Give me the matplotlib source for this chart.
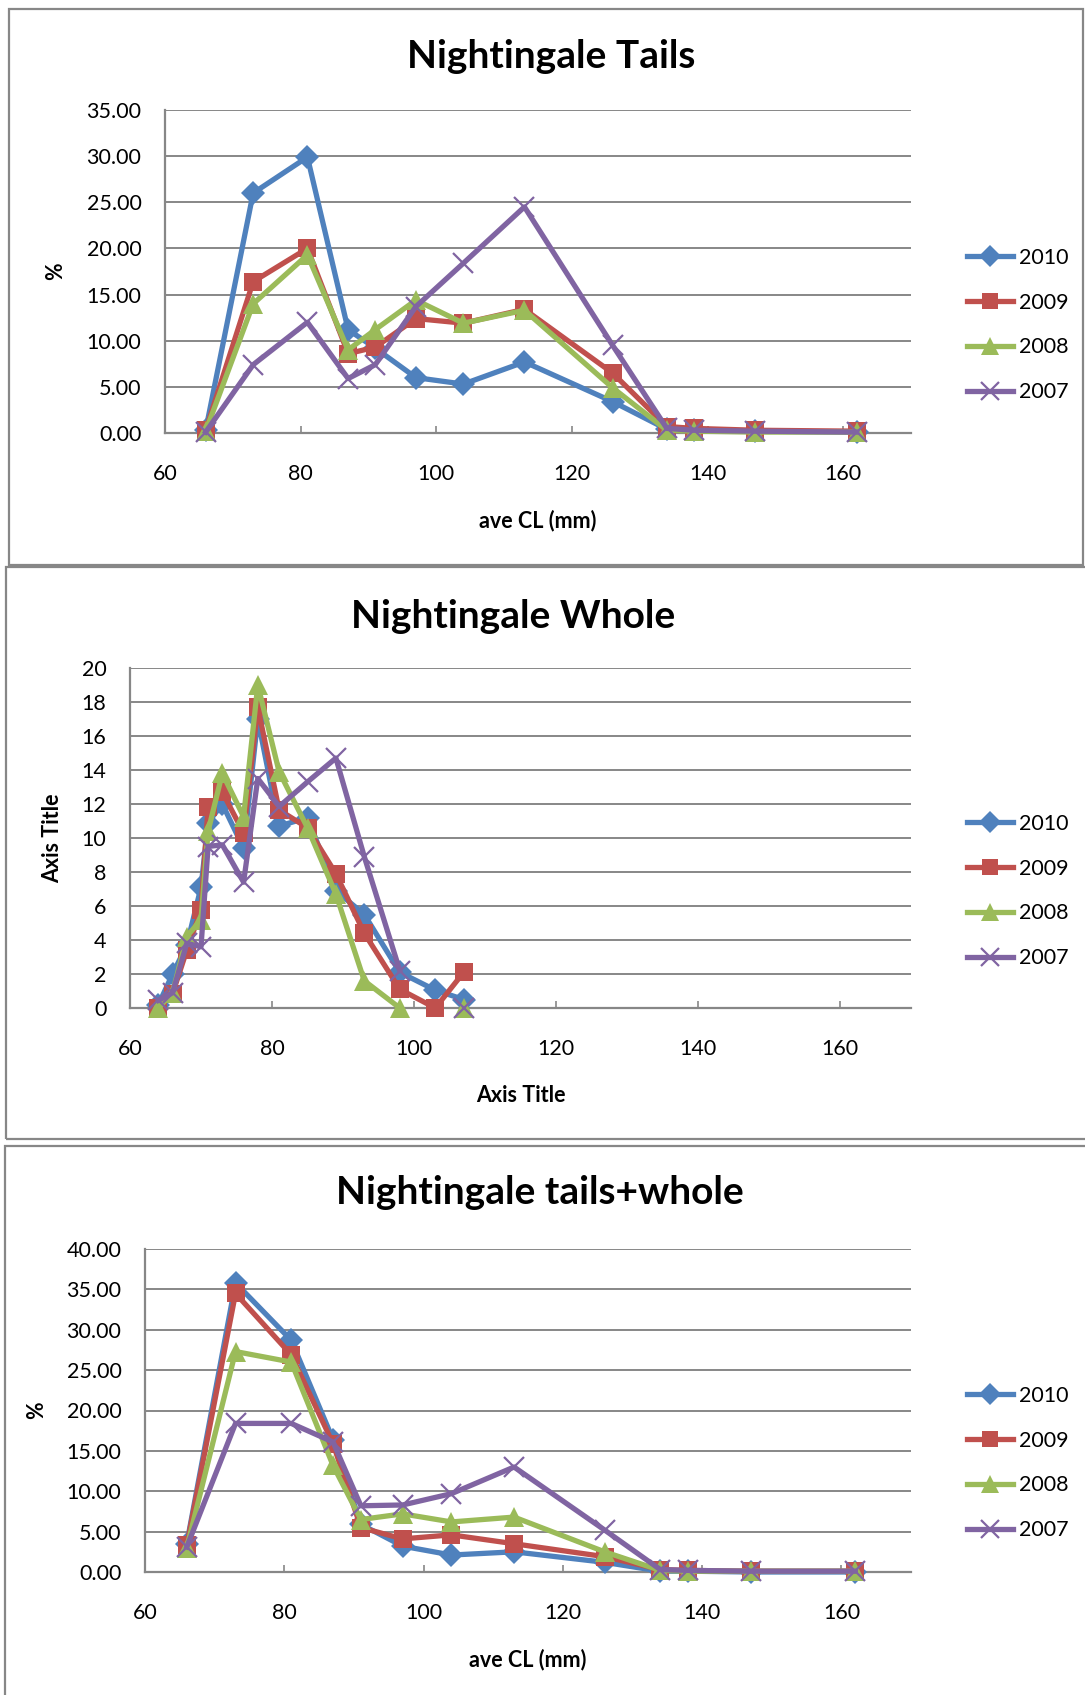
import numpy as np
import matplotlib
matplotlib.use("Agg")
import matplotlib.pyplot as plt
from matplotlib.patches import Rectangle

plt.rcParams["font.family"] = ["Lato", "DejaVu Sans"]

# Data
YEARS = ["2010", "2009", "2008", "2007"]
COLORS = ["#4F81BD", "#C0504D", "#9BBB59", "#8064A2"]
MARKERS = ["D", "s", "^", "x"]

CL_TAILS = [66, 73, 81, 87, 91, 97, 104, 113, 126, 134, 138, 147, 162]
TAILS_2010 = [0.3, 26.0, 29.9, 11.2, 9.2, 6.0, 5.3, 7.7, 3.4, 0.4, 0.3, 0.2, 0.1]
TAILS_2009 = [0.3, 16.4, 20.0, 8.6, 9.3, 12.4, 11.9, 13.4, 6.5, 0.7, 0.5, 0.3, 0.2]
TAILS_2008 = [0.2, 14.0, 19.3, 9.0, 11.2, 14.4, 11.9, 13.3, 4.9, 0.3, 0.2, 0.1, 0.1]
TAILS_2007 = [0.1, 7.4, 12.0, 5.9, 7.4, 13.7, 18.4, 24.5, 9.5, 0.5, 0.3, 0.2, 0.1]

CL_WHOLE = [64, 66, 68, 70, 71, 73, 76, 78, 81, 85, 89, 93, 98, 103, 107]
WHOLE_2010 = [0.2, 2.0, 3.7, 7.1, 10.9, 12.0, 9.4, 17.0, 10.7, 11.2, 6.9, 5.5, 2.1, 1.05, 0.5]
WHOLE_2009 = [0.0, 0.85, 3.4, 5.75, 11.85, 12.7, 10.3, 17.7, 11.65, 10.6, 7.9, 4.4, 1.1, 0.0, 2.1]
WHOLE_2008 = [0.0, 0.9, 4.2, 5.2, 10.4, 13.8, 11.25, 19.0, 13.9, 10.6, 6.7, 1.6, 0.0, np.nan, 0.0]
WHOLE_2007 = [0.45, 0.9, 3.8, 3.6, 9.5, 9.6, 7.4, 13.5, 11.85, 13.3, 14.7, 8.9, 2.2, np.nan, 0.0]

BOTH_2010 = [3.5, 35.8, 28.7, 16.4, 5.9, 3.2, 2.1, 2.5, 1.2, 0.1, 0.1, 0.0, 0.0]
BOTH_2009 = [3.3, 34.5, 26.9, 15.9, 5.5, 4.1, 4.6, 3.5, 1.9, 0.3, 0.2, 0.1, 0.1]
BOTH_2008 = [3.0, 27.3, 26.0, 13.2, 6.5, 7.2, 6.2, 6.8, 2.5, 0.2, 0.1, 0.1, 0.1]
BOTH_2007 = [3.1, 18.4, 18.4, 16.1, 8.2, 8.3, 9.7, 13.0, 5.2, 0.3, 0.2, 0.1, 0.1]

X_TICKS = [60, 80, 100, 120, 140, 160]

W, H = 1085, 1695
GRAY = "#878787"
FS = 15.5

fig = plt.figure(figsize=(W / 100, H / 100), dpi=100)


def px_axes(left, top, right, bottom):
    """axes from pixel box."""
    return fig.add_axes([left / W, 1 - bottom / H, (right - left) / W, (bottom - top) / H])


def draw_panel(ax, x, series, ymax, ystep, yfmt, title, title_xy, xlabel, ylabel,
               ylabel_x, legend_y):
    """draw one excel-like line chart."""
    for vals, name, col, mk in zip(series, YEARS, COLORS, MARKERS):
        if mk == "x":
            ax.plot(x, vals, color=col, lw=3.8, marker=mk, ms=15, mew=1.6,
                    label=name, clip_on=False, zorder=3)
        else:
            size = {"D": 12.5, "s": 13, "^": 14.5}[mk]
            ax.plot(x, vals, color=col, lw=3.8, marker=mk, ms=size, mew=0,
                    label=name, clip_on=False, zorder=3)
    ax.set_xlim(60, 170)
    ax.set_ylim(0, ymax)
    ax.set_xticks(X_TICKS)
    yt = np.arange(0, ymax + ystep / 2, ystep)
    ax.set_yticks(yt)
    ax.set_yticklabels([yfmt.format(v) for v in yt])
    ax.yaxis.grid(True, color=GRAY, lw=1.4)
    ax.set_axisbelow(True)
    for s in ["top", "right"]:
        ax.spines[s].set_visible(False)
    for s in ["left", "bottom"]:
        ax.spines[s].set_color(GRAY)
        ax.spines[s].set_linewidth(1.6)
    ax.tick_params(axis="y", length=0, pad=17, labelsize=FS)
    ax.tick_params(axis="x", direction="in", length=5, width=1.2, color=GRAY,
                   pad=22, labelsize=FS)
    fig.text(title_xy[0] / W, 1 - title_xy[1] / H, title, ha="center", va="center",
             fontsize=28, fontweight="bold")
    bb = ax.get_position()
    fig.text((bb.x0 + bb.x1) / 2, bb.y0 - 88 / H, xlabel, ha="center", va="center",
             fontsize=15.5, fontweight="bold")
    fig.text(ylabel_x / W, (bb.y0 + bb.y1) / 2, ylabel, ha="center", va="center",
             rotation=90, fontsize=15.5, fontweight="bold")
    ax.legend(loc="center left", bbox_to_anchor=(967 / W, 1 - legend_y / H),
              bbox_transform=fig.transFigure, frameon=False, fontsize=FS,
              handlelength=2.15, handletextpad=0.25, labelspacing=1.15,
              borderpad=0, borderaxespad=0, numpoints=1, markerscale=0.9)


ax1 = px_axes(165, 110, 911, 433)
draw_panel(ax1, CL_TAILS, [TAILS_2010, TAILS_2009, TAILS_2008, TAILS_2007], 35, 5,
           "{:.2f}", "Nightingale Tails", (551, 56), "ave CL (mm)", "%", 56, 325)

ax2 = px_axes(130, 668, 911, 1008)
draw_panel(ax2, CL_WHOLE, [WHOLE_2010, WHOLE_2009, WHOLE_2008, WHOLE_2007], 20, 2,
           "{:.0f}", "Nightingale Whole", (513, 617), "Axis Title", "Axis Title", 53, 891)

ax3 = px_axes(145, 1249, 911, 1572)
draw_panel(ax3, CL_TAILS, [BOTH_2010, BOTH_2009, BOTH_2008, BOTH_2007], 40, 5,
           "{:.2f}", "Nightingale tails+whole", (540, 1193), "ave CL (mm)", "%", 37, 1463)

# chart borders
for x0, y0, x1, y1 in [(9, 9, 1083, 565), (6, 567, 1090, 1139), (5, 1146, 1090, 1700)]:
    fig.add_artist(Rectangle((x0 / W, 1 - y1 / H), (x1 - x0) / W, (y1 - y0) / H,
                             transform=fig.transFigure, fill=False, ec=GRAY, lw=1.6))

fig.savefig("out.png", dpi=100)
